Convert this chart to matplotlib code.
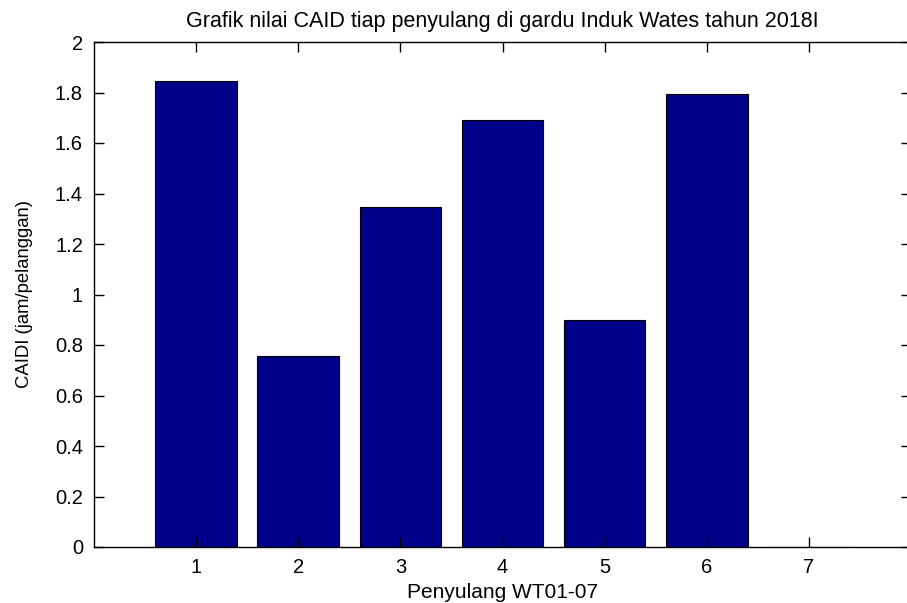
import matplotlib
matplotlib.use("Agg")
import matplotlib.pyplot as plt

categories = [1, 2, 3, 4, 5, 6, 7]
caidi = [1.845, 0.755, 1.345, 1.69, 0.90, 1.795, 0.0]
yticks = [0, 0.2, 0.4, 0.6, 0.8, 1, 1.2, 1.4, 1.6, 1.8, 2]
ytick_labels = ["0", "0.2", "0.4", "0.6", "0.8", "1", "1.2", "1.4", "1.6", "1.8", "2"]

plt.rcParams['font.family'] = ['Liberation Sans', 'DejaVu Sans']

fig = plt.figure(figsize=(9.07, 6.03), dpi=100)
ax = fig.add_axes([94/907, 1-547/603, (911-94)/907, (547-42)/603])
ax.bar(categories, caidi, width=0.8, color="#000088", edgecolor="black", linewidth=0.8)
ax.set_xlim(0, 8)
ax.set_ylim(0, 2)
ax.set_xticks(categories)
ax.set_yticks(yticks)
ax.set_yticklabels(ytick_labels)
ax.tick_params(direction="in", length=7, width=1, labelsize=14.5, top=True, right=True, pad=8)
for s in ax.spines.values():
    s.set_linewidth(1)
ax.spines['right'].set_visible(False)
ax.set_title("Grafik nilai CAID tiap penyulang di gardu Induk Wates tahun 2018I", fontsize=15.5, pad=11)
ax.set_xlabel("Penyulang WT01-07", fontsize=15, labelpad=4)
ax.set_ylabel("CAIDI (jam/pelanggan)", fontsize=13.3, labelpad=16)
fig.savefig("out.png", dpi=100)
